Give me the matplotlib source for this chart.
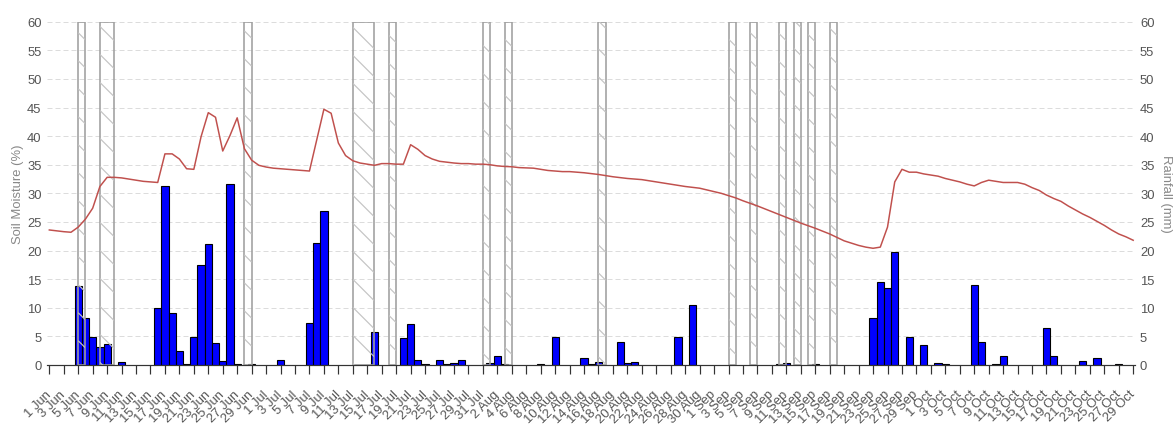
import numpy as np
import pandas as pd
import matplotlib
matplotlib.use("Agg")
import matplotlib.pyplot as plt
import matplotlib.dates as mdates
from matplotlib.collections import LineCollection

DPI = 175


def px(v):
    # pixel size -> points at this dpi
    return v * 72.0 / DPI


YEAR = "2019"
days = pd.date_range(YEAR + "-06-01", YEAR + "-10-29", freq="D")

# daily soil moisture (%)
soil_moisture = [
    # June
    23.6, 23.45, 23.3, 23.2, 24.1, 25.5, 27.4, 31.2, 32.8, 32.8,
    32.7, 32.5, 32.3, 32.1, 32.0, 31.9, 36.9, 36.9, 36.0, 34.3,
    34.2, 39.9, 44.1, 43.3, 37.4, 40.1, 43.2, 37.8, 35.8, 34.9,
    # July
    34.6, 34.4, 34.3, 34.2, 34.1, 34.0, 33.9, 39.3, 44.7, 44.0,
    38.8, 36.6, 35.7, 35.3, 35.1, 34.9, 35.2, 35.2, 35.1, 35.1,
    38.5, 37.7, 36.6, 36.0, 35.6, 35.45, 35.3, 35.2, 35.2, 35.1, 35.1,
    # August
    35.0, 34.8, 34.7, 34.65, 34.5, 34.45, 34.4, 34.2, 34.0, 33.9,
    33.8, 33.8, 33.7, 33.6, 33.45, 33.3, 33.1, 32.9, 32.75, 32.6,
    32.5, 32.4, 32.2, 32.0, 31.8, 31.6, 31.4, 31.2, 31.05, 30.9, 30.6,
    # September
    30.3, 30.0, 29.6, 29.2, 28.7, 28.25, 27.8, 27.3, 26.8, 26.3,
    25.8, 25.3, 24.8, 24.35, 23.9, 23.4, 22.9, 22.3, 21.7, 21.3,
    20.9, 20.6, 20.4, 20.6, 24.1, 32.0, 34.2, 33.7, 33.7, 33.4,
    # October
    33.2, 33.0, 32.6, 32.3, 32.0, 31.6, 31.3, 31.9, 32.3, 32.1,
    31.9, 31.9, 31.9, 31.6, 31.0, 30.5, 29.7, 29.1, 28.6, 27.8,
    27.1, 26.4, 25.8, 25.1, 24.4, 23.6, 22.9, 22.4, 21.8,
]

# rainfall days (mm), days not listed had none
rain_days = [
    "06-05", "06-06", "06-07", "06-08", "06-09", "06-11", "06-16", "06-17",
    "06-18", "06-19", "06-20", "06-21", "06-22", "06-23", "06-24", "06-25",
    "06-26", "06-27", "06-29", "07-03", "07-07", "07-08", "07-09", "07-16",
    "07-20", "07-21", "07-22", "07-23", "07-25", "07-26", "07-27", "07-28",
    "08-01", "08-02", "08-03", "08-08", "08-10", "08-14", "08-15", "08-16",
    "08-19", "08-20", "08-21", "08-27", "08-29", "09-10", "09-11", "09-15",
    "09-23", "09-24", "09-25", "09-26", "09-28", "09-30", "10-02", "10-03",
    "10-07", "10-08", "10-10", "10-11", "10-17", "10-18", "10-22", "10-24",
    "10-27",
]
rain_mm = [
    13.8, 8.2, 4.9, 3.2, 3.6, 0.6, 10.0, 31.3,
    9.1, 2.5, 0.1, 4.9, 17.4, 21.1, 3.8, 0.7,
    31.7, 0.1, 0.1, 0.9, 7.3, 21.4, 27.0, 5.8,
    4.7, 7.2, 0.9, 0.2, 0.9, 0.2, 0.4, 0.9,
    0.35, 1.5, 0.1, 0.1, 4.9, 1.3, 0.1, 0.5,
    4.1, 0.35, 0.5, 4.9, 10.4, 0.1, 0.35, 0.15,
    8.3, 14.5, 13.4, 19.8, 4.9, 3.55, 0.35, 0.15,
    14.0, 4.0, 0.15, 1.5, 6.4, 1.5, 0.75, 1.15,
    0.15,
]

# irrigation periods (hatched)
irr_start = ["06-05", "06-08", "06-28", "07-13", "07-18", "07-31", "08-03",
             "08-16", "09-03", "09-06", "09-10", "09-12", "09-14", "09-17"]
irr_end = ["06-06", "06-10", "06-29", "07-16", "07-19", "08-01", "08-04",
           "08-17", "09-04", "09-07", "09-11", "09-13", "09-15", "09-18"]

assert len(soil_moisture) == len(days)


def dnum(md):
    return mdates.date2num(pd.Timestamp(YEAR + "-" + md))


plt.rcParams["font.family"] = ["Liberation Sans", "DejaVu Sans"]

W, H = 1175, 425
fig = plt.figure(figsize=(W / DPI, H / DPI), dpi=DPI)
left, right, top, bottom = 46.5, 1135, 22.7, 366
ax = fig.add_axes([left / W, (H - bottom) / H, (right - left) / W, (bottom - top) / H])
ax2 = ax.twinx()

x = mdates.date2num(days)
xlo, xhi = x[0] - 0.39, x[-1] + 0.25
text_c = "#555555"
fs = px(13)

for a in (ax, ax2):
    a.set_ylim(0, 60)
    a.set_yticks(np.arange(0, 61, 5))
    a.set_xlim(xlo, xhi)
    for sp in a.spines.values():
        sp.set_visible(False)

# rainfall bars on the right axis
ax2.bar([dnum(d) for d in rain_days], rain_mm, width=1.0, color="#0000ff",
        edgecolor="black", linewidth=px(1.1), zorder=2)

# irrigation boxes with "\" hatching, lines 28 px apart
step = 28
px_day = (right - left) / (xhi - xlo)
px_unit = (bottom - top) / 60.0
for s, e in zip(irr_start, irr_end):
    x0, x1 = dnum(s), dnum(e)
    box = ax2.axvspan(x0, x1, facecolor="none", edgecolor="#a0a0a0",
                      linewidth=px(1.6), zorder=3)
    u0, u1 = (x0 - xlo) * px_day, (x1 - xlo) * px_day
    consts = np.arange(np.floor(u0 / step) * step, u1 + 60 * px_unit + step, step)
    segs = [[(x0, (c - u0) / px_unit), (x1, (c - u1) / px_unit)] for c in consts]
    lc = LineCollection(segs, colors="#c4c4c4", linewidths=px(1.2), zorder=3)
    ax2.add_collection(lc, autolim=False)
    lc.set_clip_path(box)

ax2.yaxis.grid(True, color="#dcdcdc", linestyle=(0, (5, 3)), linewidth=px(1))
ax2.set_axisbelow(True)

# soil moisture on the left axis, drawn on top
ax.plot(x, soil_moisture, color="#c0504d", linewidth=px(1.5), zorder=4)
ax.set_zorder(ax2.get_zorder() + 1)
ax.patch.set_visible(False)
ax2.patch.set_visible(False)

ax.spines["bottom"].set_visible(True)
ax.spines["bottom"].set_color("#333333")
ax.spines["bottom"].set_linewidth(px(1.2))

ax.tick_params(axis="y", length=0, pad=px(5), labelsize=fs, labelcolor=text_c)
ax2.tick_params(axis="y", length=0, pad=px(5), labelsize=fs, labelcolor=text_c)

tick_days = days[::2]
ax.set_xticks(mdates.date2num(tick_days))
ax.set_xticklabels([f"{d.day} {d:%b}" for d in tick_days], rotation=45,
                   ha="right", va="center", rotation_mode="anchor")
ax.tick_params(axis="x", length=px(9), width=px(1.2), color="#333333",
               pad=px(18), labelsize=fs, labelcolor=text_c)

ax.set_ylabel("Soil Moisture (%)", color="#888888", fontsize=fs, labelpad=px(3))
ax2.set_ylabel("Rainfall (mm)", color="#888888", fontsize=fs, rotation=270,
               labelpad=px(18))

fig.savefig("out.png", dpi=DPI)
